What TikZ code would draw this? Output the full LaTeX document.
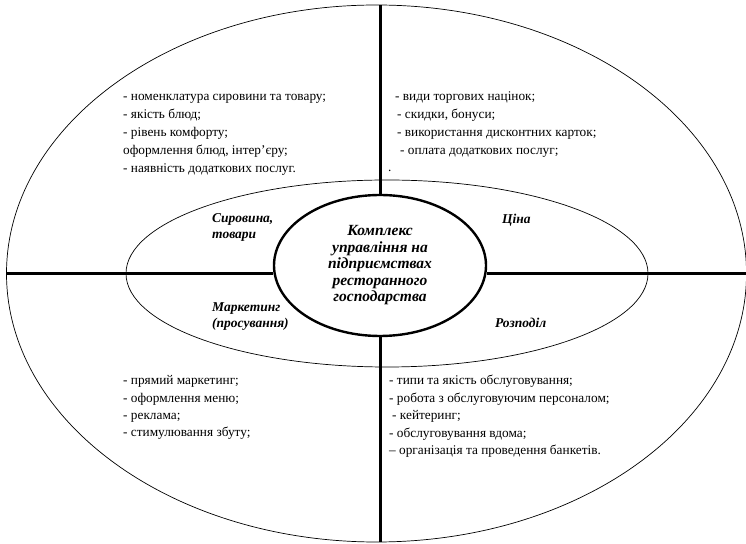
\documentclass[tikz,border=0pt]{standalone}
\usepackage{fontspec}
\setmainfont{Liberation Serif}
\usetikzlibrary{shapes.geometric,positioning}

\begin{document}
\begin{tikzpicture}[x=1pt,y=1pt,
    ring/.style={draw,ellipse,inner sep=0pt,line width=0.7pt},
    bar/.style={line width=3pt},
    items/.style={align=left,anchor=base west,inner sep=0pt,font=\fontsize{13.3}{18}\selectfont},
    sector/.style={align=left,anchor=base west,inner sep=0pt,font=\fontsize{13.5}{16}\selectfont\bfseries\itshape}]
    \useasboundingbox (0,0) rectangle (746,543);
    \node[ring,minimum width=740,minimum height=537] (outer) at (376.5,269.5) {};
    \node[ring,minimum width=522,minimum height=187] (middle) at (387,269.5) {};
    \node[ring,line width=2.4pt,minimum width=212,minimum height=141,align=center,
      font=\fontsize{15.5}{16.5}\selectfont\bfseries\itshape] (core) at (380,277.5)
      {Комплекс\\управління на\\підприємствах\\ресторанного\\господарства};

    \draw[bar] (core.north) -- (core.north |- outer.north);
    \draw[bar] (core.south) -- (core.south |- outer.south);
    \draw[bar] (outer.west) -- (outer.west -| core.west);
    \draw[bar] (outer.east -| core.east) -- (outer.east);

    % base anchor sits on the last line
    \node[sector] (goods) at (212,304) {Сировина,\\товари};
    \node[sector] (price) at (502,319) {Ціна};
    \node[sector] (promo) at (212,215) {Маркетинг\\(просування)};
    \node[sector] (place) at (495,215) {Розподіл};

    \node[items] (goodslist) at (123,370)
      {- номенклатура сировини та товару;\\- якість блюд;\\- рівень комфорту;\\оформлення блюд, інтер’єру;\\- наявність додаткових послуг.};
    \node[items] (pricelist) at (395,388)
      {- види торгових націнок;\\\hspace*{2pt}- скидки, бонуси;\\\hspace*{2pt}- використання дисконтних карток;\\\hspace*{5pt}- оплата додаткових послуг;};
    \node[items] (dot) at (388,371) {.};
    \node[items,font=\fontsize{13.3}{17.4}\selectfont] (promolist) at (123,106)
      {- прямий маркетинг;\\- оформлення меню;\\- реклама;\\- стимулювання збуту;};
    \node[items,font=\fontsize{13.3}{17.5}\selectfont] (placelist) at (389,88)
      {- типи та якість обслуговування;\\- робота з обслуговуючим персоналом;\\\hspace*{3pt}- кейтеринг;\\- обслуговування вдома;\\– організація та проведення банкетів.};
\end{tikzpicture}
\end{document}
